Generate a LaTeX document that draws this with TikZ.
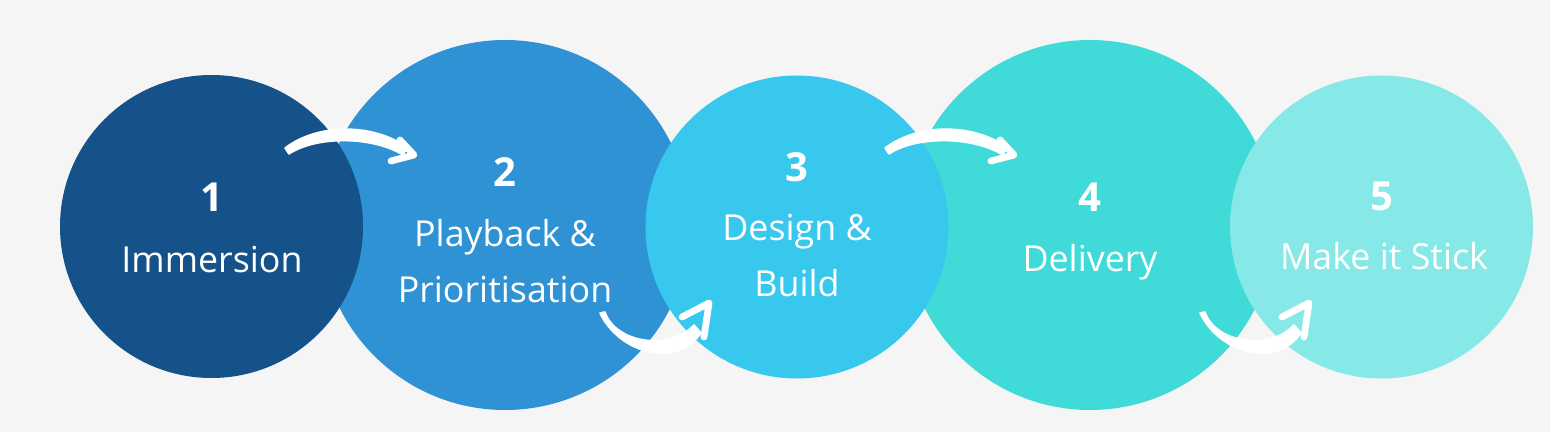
\documentclass[tikz,border=0pt]{standalone}
\usepackage{fontspec}
\setmainfont{Open Sans}
\usetikzlibrary{positioning}

\definecolor{bgGrey}{HTML}{F5F5F5}
\definecolor{stepOne}{HTML}{15528A}
\definecolor{stepTwo}{HTML}{2E92D4}
\definecolor{stepThree}{HTML}{38C8EE}
\definecolor{stepFour}{HTML}{40DBD8}
\definecolor{stepFive}{HTML}{86E9E8}

\begin{document}
\begin{tikzpicture}[
    x=0.5pt, y=-0.5pt,
    bigdot/.style={circle, minimum size=185pt, inner sep=0pt},
    smalldot/.style={circle, minimum size=151.5pt, inner sep=0pt},
    num/.style={text=white, font=\fontsize{20}{22}\selectfont\bfseries, anchor=base},
    lbl/.style={text=white, font=\fontsize{17.9}{28}\selectfont, align=center, anchor=base},
    swoosh/.style={fill=white, draw=white, line width=0.8pt, line join=round},
    barb/.style={draw=white, line width=3.4pt, line cap=round, line join=round},
    pics/overarrow/.style={code={
        \path[swoosh] (285,148) .. controls (318,123) and (372,123) .. (407,147)
            -- (403,155) .. controls (372,136) and (316,136) .. (289,154) -- cycle;
        \draw[barb] (400,140) -- (414,155) -- (391,161);
    }},
    pics/underarrow/.style={code={
        \path[swoosh] (600,313) .. controls (618,352) and (675,370) .. (701,333)
            -- (694,325) .. controls (668,352) and (615,342) .. (605,312) -- cycle;
        \draw[barb] (682,317) -- (709,303) -- (704,337);
    }}
]
\useasboundingbox[fill=bgGrey] (0,0) rectangle (1550,432);

% big circles behind
\node[bigdot, fill=stepTwo] (s2) at (505,225) {};
\node[bigdot, fill=stepFour] (s4) at (1090,225) {};

% small circles in front
\node[smalldot, fill=stepOne] (s1) at (211.5,226.5) {};
\node[smalldot, fill=stepThree] (s3) at (797,227) {};
\node[smalldot, fill=stepFive] (s5) at (1381.5,227) {};

% arrows
\pic at (0,0) {overarrow};
\pic at (600,0) {overarrow};
\pic at (0,0) {underarrow};
\pic at (600,0) {underarrow};

% labels
\node[num] (n1) at (212,212) {1};
\node[lbl] (l1) at (212,273) {Immersion};
\node[num] (n2) at (505,187) {2};
\node[lbl] (l2) at (505,302) {Playback \&\\Prioritisation};
\node[num] (n3) at (797,182) {3};
\node[lbl] (l3) at (797,297) {Design \&\\Build};
\node[num] (n4) at (1090,212) {4};
\node[lbl] (l4) at (1090,272) {Delivery};
\node[num] (n5) at (1382,211) {5};
\node[lbl] (l5) at (1384,270) {Make it Stick};

\end{tikzpicture}
\end{document}
